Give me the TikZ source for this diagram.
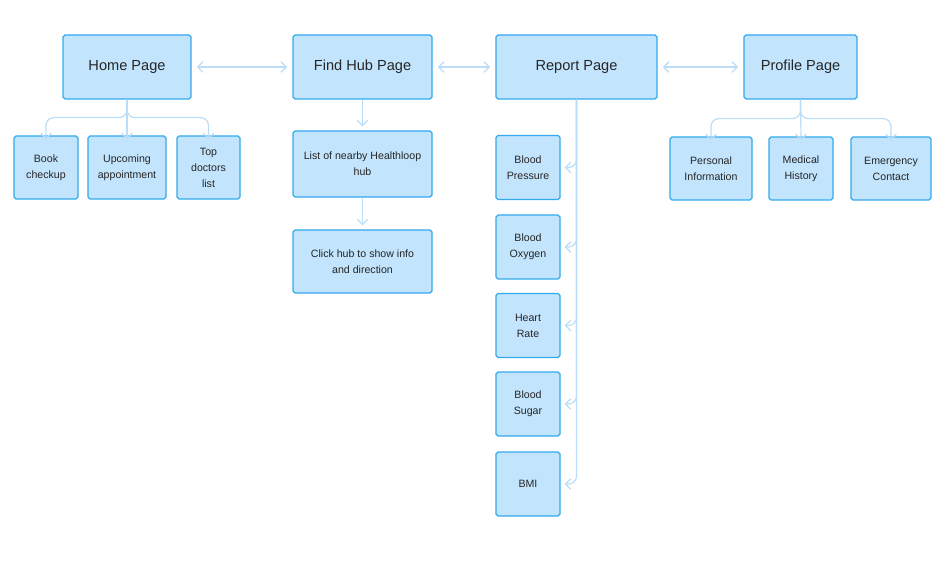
\documentclass[tikz,border=0pt]{standalone}
\usepackage{fontspec}
\setmainfont{Liberation Sans}
\usetikzlibrary{positioning,arrows.meta}
\definecolor{boxfill}{HTML}{C2E4FD}
\definecolor{boxline}{HTML}{33A9EE}
\definecolor{linkline}{HTML}{BBDDF7}
\begin{document}
\begin{tikzpicture}[x=0.0265cm,y=-0.0265cm]
            \tikzstyle{page} = [draw=boxline, fill=boxfill, rectangle, rounded corners=1.5pt, line width=0.9pt, minimum height=64*0.0265cm, text=black!85, font=\fontsize{11}{13}\selectfont]
            \tikzstyle{item} = [page, align=center, font=\fontsize{8}{12}\selectfont]
            \tikzstyle{link} = [draw=linkline, line width=0.9pt, -{Straight Barb[length=4pt,width=8pt]}, rounded corners=6pt]
            \tikzstyle{both} = [link, {Straight Barb[length=4pt,width=8pt]}-{Straight Barb[length=4pt,width=8pt]}, shorten <=4pt, shorten >=4pt]

            \useasboundingbox (0,0) rectangle (948,564);

            \node [page, minimum width=128*0.0265cm] (home) at (127,67) {Home Page};
            \node [page, minimum width=139*0.0265cm] (hub) at (362.5,67) {Find Hub Page};
            \node [page, minimum width=161*0.0265cm] (report) at (576.5,67) {Report Page};
            \node [page, minimum width=113*0.0265cm] (profile) at (800.5,67) {Profile Page};

            \node [item, minimum width=64*0.0265cm, minimum height=63*0.0265cm] (book) at (46,167.5) {Book\\checkup};
            \node [item, minimum width=78*0.0265cm, minimum height=63*0.0265cm] (upcoming) at (127,167.5) {Upcoming\\appointment};
            \node [item, minimum width=63*0.0265cm, minimum height=63*0.0265cm] (doctors) at (208.5,167.5) {Top\\doctors\\list};

            \node [item, minimum width=139*0.0265cm, minimum height=66*0.0265cm] (nearby) at (362.5,164) {List of nearby Healthloop\\hub};
            \node [item, minimum width=139*0.0265cm, minimum height=63*0.0265cm] (click) at (362.5,261.5) {Click hub to show info\\and direction};

            \node [item, minimum width=64*0.0265cm] (pressure) at (528,167.5) {Blood\\Pressure};
            \node [item, minimum width=64*0.0265cm] (oxygen) at (528,247) {Blood\\Oxygen};
            \node [item, minimum width=64*0.0265cm] (heart) at (528,325.5) {Heart\\Rate};
            \node [item, minimum width=64*0.0265cm] (sugar) at (528,404) {Blood\\Sugar};
            \node [item, minimum width=64*0.0265cm] (bmi) at (528,484) {BMI};

            \node [item, minimum width=82*0.0265cm, minimum height=63*0.0265cm] (personal) at (711,168.5) {Personal\\Information};
            \node [item, minimum width=64*0.0265cm, minimum height=63*0.0265cm] (medical) at (801,168.5) {Medical\\History};
            \node [item, minimum width=80*0.0265cm, minimum height=63*0.0265cm] (emergency) at (891,168.5) {Emergency\\Contact};

            % top row
            \draw [both] (home) -- (hub);
            \draw [both] (hub) -- (report);
            \draw [both] (report) -- (profile);

            % home branches
            \draw [link] (home.south) -- ++(0,18) -| ([yshift=-3pt]book.north);
            \draw [link] (home.south) -- ([yshift=-3pt]upcoming.north);
            \draw [link] (home.south) -- ++(0,18) -| ([yshift=-3pt]doctors.north);

            % hub chain
            \draw [link, shorten >=3pt] (hub) -- (nearby);
            \draw [link, shorten >=3pt, shorten <=0pt] (nearby) -- (click);

            % report column
            \foreach \n in {pressure,oxygen,heart,sugar,bmi}
                \draw [link] (report.south) |- ([xshift=3pt]\n.east);

            % profile branches
            \draw [link] (profile.south) -- ++(0,19) -| ([yshift=-3pt]personal.north);
            \draw [link] (profile.south) -- ([yshift=-3pt]medical.north);
            \draw [link] (profile.south) -- ++(0,19) -| ([yshift=-3pt]emergency.north);
\end{tikzpicture}
\end{document}
